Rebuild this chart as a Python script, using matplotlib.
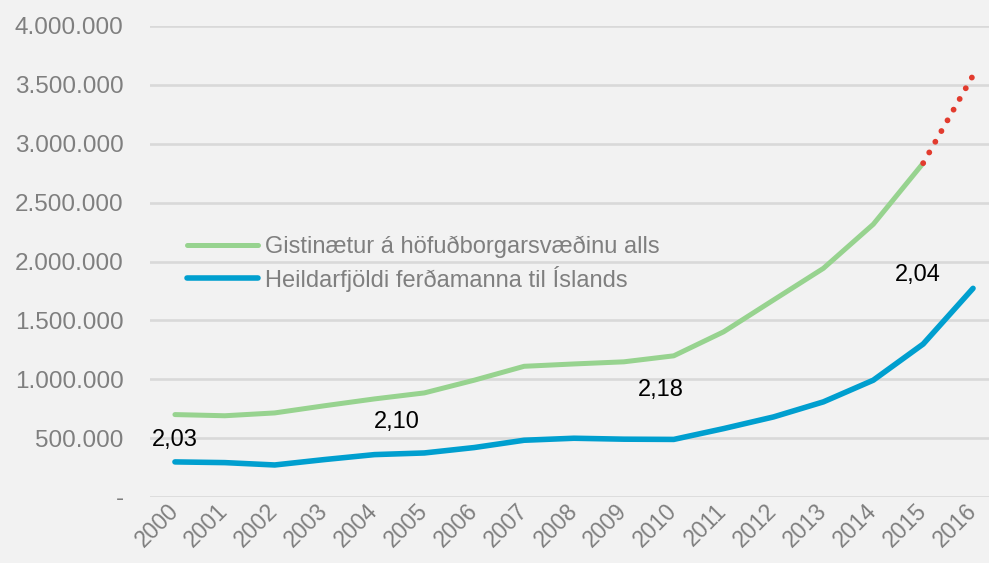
import matplotlib
matplotlib.use("Agg")
import matplotlib.pyplot as plt
import matplotlib.transforms as mtransforms

years = [str(y) for y in range(2000, 2017)]
gistinaetur = [700000, 690000, 714000, 775000, 833000, 884000, 992000, 1110000,
               1130000, 1148000, 1199000, 1403000, 1673000, 1942000, 2316000, 2835000]
gistinaetur_est = [2835000, 3580000]
ferdamenn = [298000, 292000, 272000, 318000, 360000, 374000, 420000, 482000,
             499000, 491000, 489000, 581000, 680000, 808000, 992000, 1299000, 1772000]
ratio_labels = ["2,03", "2,10", "2,18", "2,04"]
ratio_pos = [(0.0, 482000), (4.44, 638000), (9.75, 907000), (14.9, 1885000)]
yticks = [0, 500000, 1000000, 1500000, 2000000, 2500000, 3000000, 3500000, 4000000]
series_names = ["Gistinætur á höfuðborgarsvæðinu alls", "Heildarfjöldi ferðamanna til Íslands"]

plt.rcParams['font.family'] = ['Liberation Sans', 'DejaVu Sans']
bg = '#f2f2f2'
fig = plt.figure(figsize=(9.89, 5.63), dpi=100, facecolor=bg)
ax = fig.add_axes([150/989, (563-497)/563, 839/989, (497-26)/563])
ax.set_facecolor(bg)

x = list(range(len(years)))
ax.plot(x[:len(gistinaetur)], gistinaetur, color='#97d38f', lw=3.6,
        solid_capstyle='round', solid_joinstyle='round', label=series_names[0], zorder=3)
ax.plot(x, ferdamenn, color='#009fcf', lw=4.0,
        solid_capstyle='round', solid_joinstyle='round', label=series_names[1], zorder=3)
ax.plot(x[-2:], gistinaetur_est, color='#e23b2e', lw=4.2,
        linestyle=(0, (0.01, 2.1)), dash_capstyle='round', zorder=3)

for lab, (px, py) in zip(ratio_labels, ratio_pos):
    ax.text(px, py, lab, ha='center', va='center', fontsize=17, color='black', zorder=4)

ax.set_xlim(-0.5, 16.32)
ax.set_ylim(0, 4000000)
ax.set_yticks(yticks)
ax.set_yticklabels(['-' if v == 0 else f"{v:,}".replace(',', '.') for v in yticks])
ax.set_xticks(x)
ax.set_xticklabels(years, rotation=45, ha='right')
ax.tick_params(axis='both', length=0, colors='#7f7f7f', labelsize=17.5)
ax.tick_params(axis='x', labelsize=16.5, pad=2)
ax.tick_params(axis='y', pad=19)
offset = mtransforms.ScaledTranslation(8/100, 0, fig.dpi_scale_trans)
for lbl in ax.get_xticklabels():
    lbl.set_transform(lbl.get_transform() + offset)
ax.grid(axis='y', color='#d9d9d9', lw=1.9, zorder=0)
ax.set_axisbelow(True)
for s in ax.spines.values():
    s.set_visible(False)

leg = ax.legend(loc='upper left', bbox_to_anchor=(0.044, 0.555), frameon=False,
                fontsize=17, handlelength=3.0, handletextpad=0.3, labelspacing=0.33,
                borderpad=0, borderaxespad=0)
for t in leg.get_texts():
    t.set_color('#7f7f7f')

fig.savefig('out.png', dpi=100, facecolor=bg)
